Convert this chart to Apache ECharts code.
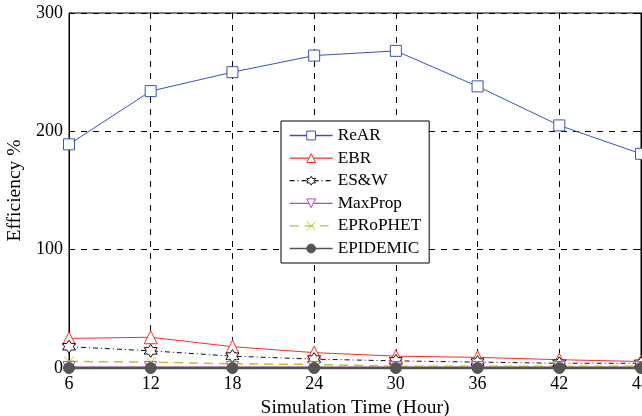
<!DOCTYPE html>
<html>
<head>
<meta charset="utf-8">
<script src="https://cdn.jsdelivr.net/npm/echarts@6/dist/echarts.min.js"></script>
<style>
  html, body { margin: 0; padding: 0; background: #fff; }
  #ec { width: 642px; height: 416px; }
</style>
</head>
<body>
<div id="ec"></div>
<script>
// hours on the x axis
var hours = [6, 12, 18, 24, 30, 36, 42, 48]
var yTicks = [0, 100, 200, 300]

var rear = [189, 234, 250, 264, 268, 238, 205, 181]
var ebr = [25, 26, 18, 13, 10, 9, 7, 5.5]
var esw = [18, 14.5, 10, 7.5, 6, 5, 4, 4]
var maxprop = [0.5, 0.5, 0.5, 0.5, 0.5, 0.5, 0.5, 0.5]
var eprophet = [5.5, 5, 3.5, 3, 1.5, 1.5, 1.5, 1.5]
var epidemic = [0, 0, 0, 0, 0, 0, 0, 0]

var FONT = '"Liberation Serif", "Times New Roman", serif'

var hexagram = 'path://M0,-10L2.89,-5L8.66,-5L5.77,0L8.66,5L2.89,5L0,10L-2.89,5L-8.66,5L-5.77,0L-8.66,-5L-2.89,-5Z'
var downTri = 'path://M-5,-4L5,-4L0,5Z'
var xMark = 'path://M-5,-5L5,5M5,-5L-5,5'

function pairs(arr) {
  return hours.map(function (h, i) { return [h, arr[i]] })
}

function mkSeries(name, data, color, symbol, size, lineType, lineWidth, fill) {
  return {
    name: name,
    type: 'line',
    data: pairs(data),
    symbol: symbol,
    symbolSize: size,
    showAllSymbol: true,
    clip: false,
    animation: false,
    lineStyle: { color: color, width: lineWidth, type: lineType },
    itemStyle: { color: fill, borderColor: color, borderWidth: 1 }
  }
}

var charts = echarts.init(document.getElementById('ec'))
charts.setOption({
  backgroundColor: '#fff',
  textStyle: { fontFamily: FONT },
  grid: {
    left: 69,
    right: 1,
    top: 13,
    bottom: 48,
    outerBoundsMode: 'none',
    containLabel: false,
    show: true,
    borderColor: '#000',
    borderWidth: 1
  },
  legend: {
    orient: 'vertical',
    left: 281,
    top: 121,
    padding: [6, 8, 6, 8],
    itemGap: 5.6,
    itemWidth: 43,
    itemHeight: 11,
    backgroundColor: '#fff',
    borderColor: '#000',
    borderWidth: 1,
    borderRadius: 0,
    selectedMode: false,
    lineStyle: { width: 1.3 },
    itemStyle: { borderWidth: 1 },
    textStyle: { fontFamily: FONT, fontSize: 17.3, color: '#000' }
  },
  xAxis: [
    {
      type: 'value',
      min: 6,
      max: 48,
      interval: 6,
      name: 'Simulation Time (Hour)',
      nameLocation: 'middle',
      nameGap: 24,
      nameTextStyle: { fontFamily: FONT, fontSize: 19.5, color: '#000' },
      axisLine: { show: true, lineStyle: { color: '#000' } },
      axisTick: { show: true, inside: true, length: 5, lineStyle: { color: '#000' } },
      axisLabel: { fontFamily: FONT, fontSize: 18, color: '#000', margin: 7,
        formatter: function (v) { return hours.indexOf(v) >= 0 ? String(v) : '' } },
      splitLine: { show: true, lineStyle: { color: '#000', type: [6, 6], width: 1 } }
    },
    {
      type: 'value',
      position: 'top',
      min: 6,
      max: 48,
      interval: 6,
      axisLine: { show: true, lineStyle: { color: '#000' } },
      axisTick: { show: true, inside: true, length: 5, lineStyle: { color: '#000' } },
      axisLabel: { show: false },
      splitLine: { show: false }
    }
  ],
  yAxis: [
    {
      type: 'value',
      min: 0,
      max: 300,
      interval: 100,
      name: 'Efficiency %',
      nameLocation: 'middle',
      nameGap: 30,
      nameTextStyle: { fontFamily: FONT, fontSize: 19.5, color: '#000' },
      axisLine: { show: true, lineStyle: { color: '#000' } },
      axisTick: { show: true, inside: true, length: 5, lineStyle: { color: '#000' } },
      axisLabel: { fontFamily: FONT, fontSize: 18, color: '#000', margin: 6,
        formatter: function (v) { return yTicks.indexOf(v) >= 0 ? String(v) : '' } },
      splitLine: { show: true, lineStyle: { color: '#000', type: [6, 6], width: 1 } }
    },
    {
      type: 'value',
      position: 'right',
      min: 0,
      max: 300,
      interval: 100,
      axisLine: { show: true, lineStyle: { color: '#000' } },
      axisTick: { show: true, inside: true, length: 5, lineStyle: { color: '#000' } },
      axisLabel: { show: false },
      splitLine: { show: false }
    }
  ],
  series: [
    mkSeries('ReAR', rear, '#3a55b4', 'rect', 11, 'solid', 1, '#fff'),
    mkSeries('EBR', ebr, '#ff2a2a', 'triangle', 13, 'solid', 1, '#fff'),
    mkSeries('ES&W', esw, '#111', hexagram, 13, [5, 3, 1, 3], 1, '#fff'),
    mkSeries('MaxProp', maxprop, '#c040c0', downTri, 12, 'solid', 2, '#fff'),
    mkSeries('EPRoPHET', eprophet, '#c0c030', xMark, 10, [9, 6], 1.5, 'none'),
    mkSeries('EPIDEMIC', epidemic, '#555', 'circle', 11, 'solid', 2.5, '#555')
  ]
})
</script>
</body>
</html>
